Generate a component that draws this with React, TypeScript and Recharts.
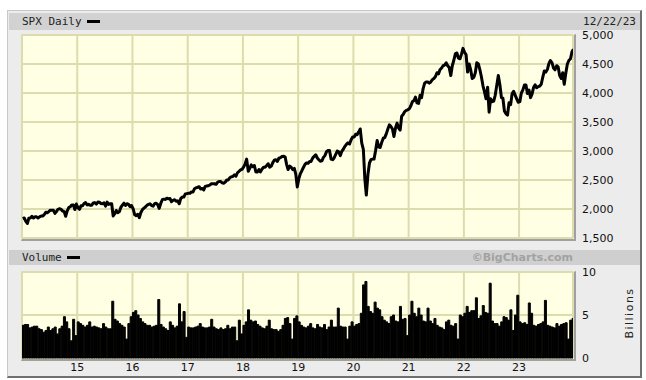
import React from 'react';
import { LineChart, Line, XAxis, YAxis, CartesianGrid, BarChart, Bar } from 'recharts';

// SPX price, three readings per month (about the 5th, 15th and 25th), 2014-2023
const spx2014 = [1835, 1845, 1790, 1750, 1840, 1845, 1875, 1845, 1865, 1865, 1845, 1865, 1880, 1880, 1900, 1945, 1935, 1955, 1980, 1980, 1980, 1925, 1955, 1995, 2005, 1995, 1965, 1955, 1875, 1965, 2025, 2040, 2070, 2070, 1990, 2085];
const spx2015 = [2020, 1995, 2055, 2055, 2095, 2110, 2070, 2080, 2065, 2065, 2105, 2110, 2085, 2120, 2115, 2095, 2090, 2105, 2050, 2120, 2080, 2090, 2090, 1880, 1920, 1975, 1935, 1955, 2030, 2065, 2100, 2060, 2090, 2080, 2040, 2060];
const spx2016 = [2000, 1900, 1885, 1910, 1850, 1935, 1990, 2015, 2035, 2065, 2080, 2090, 2060, 2050, 2090, 2100, 2075, 2010, 2100, 2160, 2170, 2165, 2185, 2175, 2180, 2125, 2150, 2160, 2135, 2140, 2090, 2180, 2205, 2205, 2260, 2265];
const spx2017 = [2270, 2270, 2295, 2295, 2350, 2365, 2375, 2385, 2345, 2355, 2330, 2390, 2395, 2400, 2415, 2435, 2435, 2435, 2425, 2460, 2475, 2475, 2450, 2445, 2465, 2500, 2500, 2540, 2555, 2560, 2590, 2565, 2625, 2650, 2675, 2685];
const spx2018 = [2725, 2780, 2860, 2650, 2700, 2760, 2730, 2750, 2640, 2640, 2680, 2640, 2690, 2720, 2720, 2750, 2780, 2720, 2740, 2800, 2840, 2850, 2820, 2875, 2885, 2905, 2910, 2900, 2770, 2680, 2740, 2720, 2680, 2700, 2600, 2380];
const spx2019 = [2530, 2610, 2660, 2720, 2770, 2795, 2790, 2820, 2820, 2880, 2910, 2935, 2880, 2850, 2825, 2830, 2890, 2920, 2990, 3010, 3010, 2860, 2850, 2880, 2940, 3000, 2985, 2920, 2995, 3030, 3080, 3115, 3140, 3120, 3190, 3240];
const spx2020 = [3240, 3290, 3280, 3330, 3380, 3140, 3030, 2520, 2240, 2600, 2790, 2850, 2860, 2860, 3000, 3180, 3070, 3060, 3150, 3220, 3230, 3300, 3380, 3450, 3420, 3380, 3250, 3400, 3480, 3400, 3360, 3600, 3630, 3680, 3700, 3710];
const spx2021 = [3730, 3780, 3850, 3870, 3930, 3830, 3820, 3960, 3920, 4080, 4170, 4190, 4190, 4170, 4190, 4230, 4250, 4280, 4350, 4330, 4400, 4430, 4470, 4480, 4520, 4470, 4440, 4300, 4470, 4560, 4680, 4690, 4600, 4590, 4670, 4770];
const spx2022 = [4700, 4660, 4360, 4500, 4400, 4250, 4270, 4350, 4520, 4500, 4400, 4280, 4120, 4020, 3900, 4100, 3670, 3900, 3850, 3860, 3960, 4140, 4300, 4150, 3920, 3910, 3690, 3640, 3620, 3830, 3800, 3990, 4030, 3960, 3900, 3840];
const spx2023 = [3850, 4000, 4050, 4140, 4140, 3990, 4050, 3920, 3980, 4100, 4140, 4090, 4110, 4120, 4150, 4280, 4380, 4360, 4410, 4510, 4560, 4520, 4430, 4400, 4470, 4450, 4300, 4250, 4350, 4150, 4350, 4500, 4560, 4590, 4710, 4755];

// Volume in billions, two readings per month
const vol2014 = [3.8, 3.9, 3.9, 3.5, 3.6, 3.7, 3.7, 3.4, 3.3, 3.0, 3.2, 3.6, 3.2, 3.4, 3.6, 2.8, 3.4, 3.7, 4.8, 4.2, 3.4, 2.0, 4.5, 2.6];
const vol2015 = [4.2, 4.0, 3.8, 3.6, 3.8, 4.2, 3.6, 3.7, 3.6, 3.5, 3.4, 4.0, 3.6, 3.4, 3.4, 6.6, 4.5, 4.3, 4.0, 3.8, 3.6, 2.2, 4.0, 4.8];
const vol2016 = [5.3, 5.5, 5.0, 4.6, 4.2, 4.0, 3.8, 3.8, 3.6, 3.7, 3.8, 6.8, 3.9, 3.6, 3.4, 3.2, 4.2, 3.8, 3.5, 3.7, 6.3, 4.2, 5.4, 2.4];
const vol2017 = [3.6, 3.5, 3.5, 3.6, 3.7, 4.0, 3.6, 3.5, 3.5, 3.6, 4.5, 3.6, 3.4, 3.3, 3.5, 3.3, 3.4, 3.8, 3.4, 3.6, 3.6, 2.0, 4.4, 2.8];
const vol2018 = [3.8, 4.2, 5.6, 4.4, 4.2, 4.3, 3.9, 3.7, 3.5, 3.4, 3.7, 4.4, 3.4, 3.3, 3.3, 3.1, 3.3, 3.8, 4.6, 4.7, 4.0, 2.2, 4.6, 4.9];
const vol2019 = [4.2, 3.8, 3.6, 3.5, 3.7, 4.0, 3.5, 3.4, 3.9, 3.6, 3.5, 3.9, 3.3, 3.6, 4.4, 3.6, 3.6, 5.8, 3.7, 3.6, 3.6, 2.2, 3.7, 4.2];
const vol2020 = [3.7, 3.9, 4.0, 5.2, 8.5, 8.9, 6.0, 5.4, 5.2, 6.5, 5.8, 5.6, 4.8, 4.4, 4.2, 4.0, 4.8, 5.0, 4.3, 4.2, 6.0, 4.5, 4.6, 2.6];
const vol2021 = [5.0, 6.6, 5.2, 4.8, 5.8, 5.0, 4.3, 4.2, 5.8, 4.3, 4.0, 4.6, 3.8, 3.6, 3.5, 3.3, 4.2, 4.4, 3.8, 3.7, 4.0, 2.2, 5.0, 4.8];
const vol2022 = [5.2, 6.0, 5.3, 5.5, 5.5, 7.0, 4.6, 4.9, 6.1, 5.3, 5.2, 8.7, 4.3, 4.0, 4.0, 3.7, 4.2, 4.8, 4.7, 4.4, 5.6, 3.2, 5.0, 7.3];
const vol2023 = [4.2, 4.0, 4.1, 3.9, 6.4, 5.2, 3.8, 3.7, 3.9, 4.0, 4.2, 6.7, 3.8, 3.7, 3.6, 3.5, 4.0, 3.7, 3.9, 4.0, 4.1, 2.2, 4.4, 4.6];

const years = [2014, 2015, 2016, 2017, 2018, 2019, 2020, 2021, 2022, 2023];
const priceByYear = [spx2014, spx2015, spx2016, spx2017, spx2018, spx2019, spx2020, spx2021, spx2022, spx2023];
const volumeByYear = [vol2014, vol2015, vol2016, vol2017, vol2018, vol2019, vol2020, vol2021, vol2022, vol2023];

const priceTicks = [1500, 2000, 2500, 3000, 3500, 4000, 4500, 5000];
const volumeTicks = [0, 5, 10];
const yearTicks = [2015, 2016, 2017, 2018, 2019, 2020, 2021, 2022, 2023];
const yearLabels = ['15', '16', '17', '18', '19', '20', '21', '22', '23'];
const priceDays = [5, 15, 25];
const volumeHalves = [0.25, 0.75];

const priceData = years.flatMap((yr, yi) =>
  priceByYear[yi].map((close, i) => ({
    t: yr + (Math.floor(i / 3) + priceDays[i % 3] / 31) / 12,
    close,
  }))
);
const volumeData = years.flatMap((yr, yi) =>
  volumeByYear[yi].map((vol, i) => ({
    t: yr + (Math.floor(i / 2) + volumeHalves[i % 2]) / 12,
    vol,
  }))
);

const X_DOMAIN: [number, number] = [2014, 2023 + (11 + 22 / 31) / 12];

const PLOT_L = 22;
const PLOT_R = 573;
const P_TOP = 35;
const P_BOT = 238;
const V_TOP = 272;
const V_BOT = 358;

const mono = '"DejaVu Sans Mono", monospace';
const sans = '"DejaVu Sans", Verdana, sans-serif';
const gridColor = '#dcdcae';
const plotBg = '#ffffe4';

const plotBox = (top: number, bottom: number): React.CSSProperties => ({
  position: 'absolute',
  left: PLOT_L - 1,
  top: top - 1,
  width: PLOT_R - PLOT_L + 1,
  height: bottom - top + 1,
  background: plotBg,
  borderTop: '1px solid #e4e4d0',
  borderLeft: '1px solid #e4e4d0',
  borderRight: '2px solid #a0a0a0',
  borderBottom: '2px solid #a0a0a0',
});

export default function App() {
  return (
    <div style={{ position: 'absolute', left: 0, top: 0, width: 646, height: 380, background: '#ffffff', overflow: 'hidden' }}>
      {/* outer panel */}
      <div style={{ position: 'absolute', left: 7, top: 10, width: 632, height: 365, background: '#ececec', borderLeft: '1px solid #c8c8c8', borderTop: '1px solid #c8c8c8', borderRight: '2px solid #707070', borderBottom: '2px solid #707070' }} />
      {/* header bars */}
      <div style={{ position: 'absolute', left: 9, top: 13, width: 631, height: 17, background: '#d2d2d2' }} />
      <div style={{ position: 'absolute', left: 9, top: 250, width: 631, height: 15, background: '#cfcfcf' }} />
      <div style={{ position: 'absolute', left: 22, top: 14, fontFamily: mono, fontSize: 11, color: '#222', lineHeight: '15px', whiteSpace: 'nowrap' }}>SPX Daily</div>
      <div style={{ position: 'absolute', left: 87, top: 20, width: 13, height: 3, background: '#000' }} />
      <div style={{ position: 'absolute', right: 10, top: 14, fontFamily: mono, fontSize: 11, color: '#222', lineHeight: '15px', whiteSpace: 'nowrap' }}>12/22/23</div>
      <div style={{ position: 'absolute', left: 22, top: 250, fontFamily: mono, fontSize: 11, color: '#222', lineHeight: '15px', whiteSpace: 'nowrap' }}>Volume</div>
      <div style={{ position: 'absolute', left: 67, top: 256, width: 13, height: 3, background: '#000' }} />
      <div style={{ position: 'absolute', right: 646 - PLOT_R, top: 250, fontFamily: sans, fontWeight: 'bold', fontSize: 11, color: '#a2a2a2', lineHeight: '15px', whiteSpace: 'nowrap' }}>©BigCharts.com</div>
      <div style={{ position: 'absolute', left: 629, top: 313, transform: 'translate(-50%, -50%) rotate(-90deg)', fontFamily: sans, fontSize: 11, color: '#222', letterSpacing: 1.5, whiteSpace: 'nowrap' }}>Billions</div>

      {/* plot backgrounds */}
      <div style={plotBox(P_TOP, P_BOT)} />
      <div style={plotBox(V_TOP, V_BOT)} />

      {/* price chart */}
      <div style={{ position: 'absolute', left: 0, top: 0 }}>
        <LineChart width={646} height={245} data={priceData} margin={{ top: P_TOP, bottom: 245 - P_BOT, left: PLOT_L, right: 8 }}>
          <CartesianGrid stroke={gridColor} strokeWidth={2} />
          <XAxis dataKey="t" type="number" domain={X_DOMAIN} ticks={yearTicks} allowDataOverflow hide />
          <YAxis
            orientation="right"
            width={646 - PLOT_R - 8}
            domain={[1500, 5000]}
            ticks={priceTicks}
            interval={0}
            axisLine={false}
            tickLine={false}
            tickSize={0}
            tickMargin={9}
            tick={{ fontFamily: sans, fontSize: 11, fill: '#111' }}
            tickFormatter={(v: number) => v.toLocaleString('en-US')}
          />
          <Line dataKey="close" type="linear" stroke="#000" strokeWidth={3} dot={false} isAnimationActive={false} strokeLinejoin="round" />
        </LineChart>
      </div>

      {/* volume chart */}
      <div style={{ position: 'absolute', left: 0, top: 250 }}>
        <BarChart width={646} height={130} data={volumeData} margin={{ top: V_TOP - 250, bottom: 0, left: PLOT_L, right: 8 }} barGap={0}>
          <CartesianGrid stroke={gridColor} strokeWidth={2} />
          <XAxis
            dataKey="t"
            type="number"
            domain={X_DOMAIN}
            ticks={yearTicks}
            interval={0}
            allowDataOverflow
            axisLine={false}
            tickLine={false}
            tickSize={0}
            tickMargin={5}
            height={130 - (V_BOT - 250)}
            tick={{ fontFamily: sans, fontSize: 11, fill: '#111' }}
            tickFormatter={(v: number) => yearLabels[yearTicks.indexOf(v)]}
          />
          <YAxis
            orientation="right"
            width={646 - PLOT_R - 8}
            domain={[0, 10]}
            ticks={volumeTicks}
            interval={0}
            axisLine={false}
            tickLine={false}
            tickSize={0}
            tickMargin={9}
            tick={{ fontFamily: sans, fontSize: 11, fill: '#111' }}
          />
          <Bar dataKey="vol" fill="#000" stroke="#000" strokeWidth={1} barSize={2} isAnimationActive={false} />
        </BarChart>
      </div>
    </div>
  );
}
